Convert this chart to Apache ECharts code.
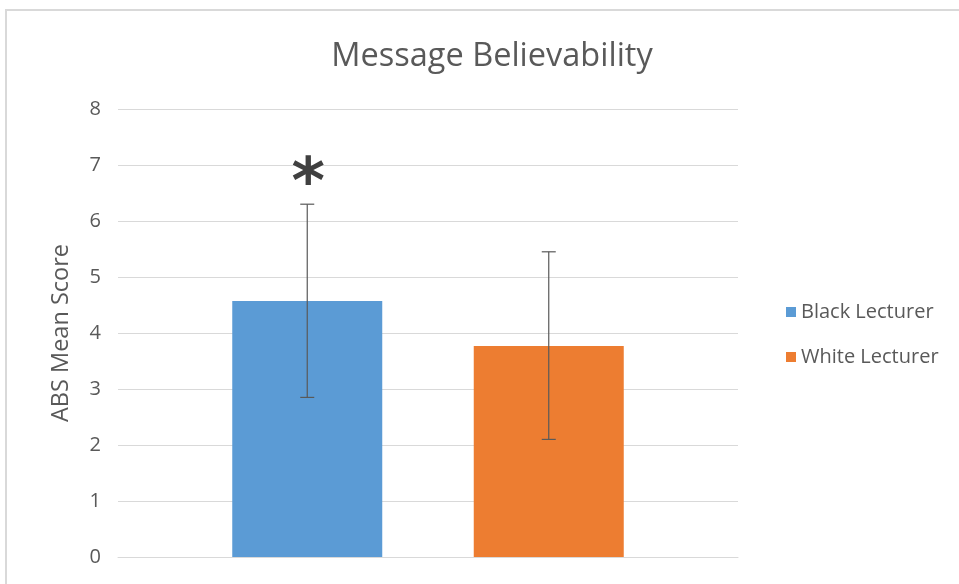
<!DOCTYPE html>
<html>
<head>
<meta charset="utf-8">
<script src="https://cdn.jsdelivr.net/npm/echarts@6/dist/echarts.min.js"></script>
<style>
html,body{margin:0;padding:0;background:#fff;}
#frame{position:absolute;left:5px;top:9px;width:960px;height:590px;border-top:2px solid #d9d9d9;border-left:2px solid #d9d9d9;}
#chart{position:absolute;left:0;top:0;width:959px;height:584px;}
</style>
</head>
<body>
<div id="frame"></div>
<div id="chart"></div>
<script>
var seriesNames = ['Black Lecturer', 'White Lecturer'];
var means = [4.57, 3.77];
var errLow = [2.85, 2.10];
var errHigh = [6.30, 5.45];
var marks = ['*', ''];
var colors = ['#5b9bd5', '#ed7d31'];
var yTicks = [0, 1, 2, 3, 4, 5, 6, 7, 8];

var BAR_W = 150, BAR_GAP = '61%';
var fontFam = '"Open Sans", "Liberation Sans", sans-serif';

var chart = echarts.init(document.getElementById('chart'));

var barSeries = seriesNames.map(function (n, i) {
  return {
    name: n, type: 'bar', data: [means[i]],
    barWidth: BAR_W, barGap: BAR_GAP,
    itemStyle: { color: colors[i] }, z: 2
  };
});

var errData = seriesNames.map(function (n, i) { return [0, errLow[i], errHigh[i], i]; });

barSeries.push({
  type: 'custom', name: 'err', z: 5, silent: true,
  data: errData,
  encode: { x: 0, y: [1, 2] },
  renderItem: function (params, api) {
    var idx = api.value(3);
    var lay = api.barLayout({ count: 2, barWidth: BAR_W, barGap: BAR_GAP });
    var pLow = api.coord([0, api.value(1)]);
    var pHigh = api.coord([0, api.value(2)]);
    var x = pLow[0] + lay[idx].offsetCenter;
    var cap = 7;
    var st = { stroke: '#595959', lineWidth: 1.2 };
    var children = [
      { type: 'line', shape: { x1: x, y1: pHigh[1], x2: x, y2: pLow[1] }, style: st },
      { type: 'line', shape: { x1: x - cap, y1: pHigh[1], x2: x + cap, y2: pHigh[1] }, style: st },
      { type: 'line', shape: { x1: x - cap, y1: pLow[1], x2: x + cap, y2: pLow[1] }, style: st }
    ];
    if (marks[idx]) {
      children.push({
        type: 'text',
        style: {
          x: x + 1, y: pHigh[1] + 14, text: marks[idx],
          font: 'bold 64px "DejaVu Sans", sans-serif', fill: '#404040',
          align: 'center', verticalAlign: 'bottom'
        }
      });
    }
    return { type: 'group', children: children };
  }
});

chart.setOption({
  animation: false,
  title: {
    text: 'Message Believability', top: 40,
    textStyle: { fontFamily: fontFam, fontWeight: 'normal', fontSize: 32.5, color: '#595959' },
    padding: 0, left: 492, textAlign: 'center'
  },
  legend: {
    orient: 'vertical', left: 781, top: 297, itemGap: 25,
    itemWidth: 10, itemHeight: 10, icon: 'rect',
    data: seriesNames,
    textStyle: { fontFamily: fontFam, fontSize: 20, color: '#595959', padding: [0, 0, 0, 0] }
  },
  grid: { left: 118, right: 221, top: 109, bottom: 27, containLabel: false },
  xAxis: {
    type: 'category', data: [''],
    axisLine: { lineStyle: { color: '#d9d9d9' } },
    axisTick: { show: false }, axisLabel: { show: false }
  },
  yAxis: {
    type: 'value', min: yTicks[0], max: yTicks[yTicks.length - 1], interval: 1,
    name: 'ABS Mean Score', nameLocation: 'middle', nameGap: 45, nameRotate: 90,
    nameTextStyle: { fontFamily: fontFam, fontSize: 23.5, color: '#595959' },
    axisLine: { show: false }, axisTick: { show: false },
    axisLabel: { fontFamily: fontFam, fontSize: 20, color: '#595959', margin: 17 },
    splitLine: { lineStyle: { color: '#d9d9d9', width: 1 } }
  },
  series: barSeries
});
</script>
</body>
</html>
